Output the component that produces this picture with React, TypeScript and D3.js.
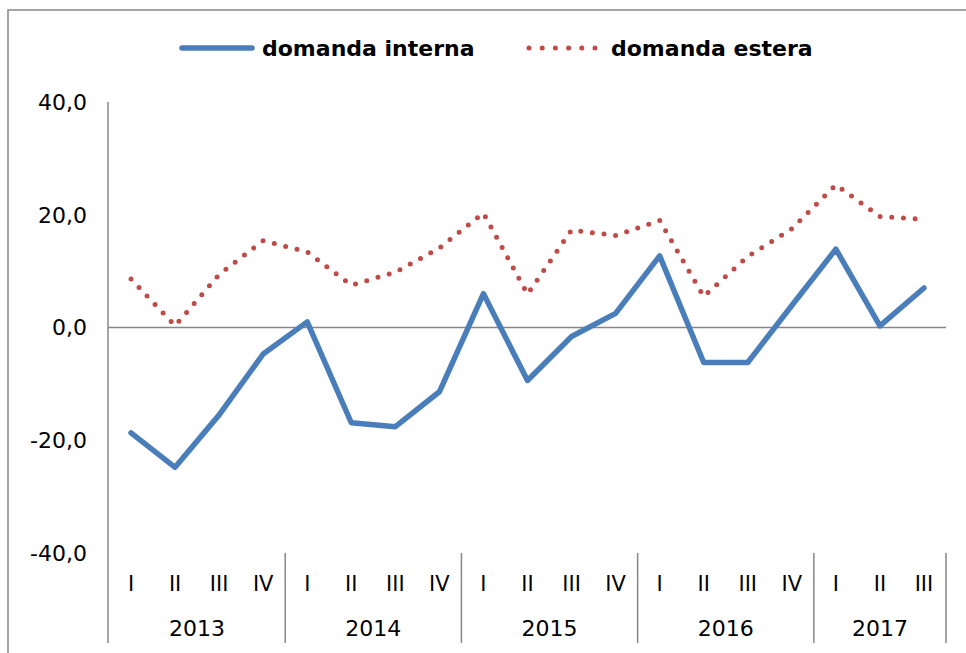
import React from "react";
import * as d3 from "d3";

const years = ["2013", "2014", "2015", "2016", "2017"];
const quarters = ["I", "II", "III", "IV"];
const categories: { year: string; q: string }[] = [
  ...["I", "II", "III", "IV"].map((q) => ({ year: "2013", q })),
  ...["I", "II", "III", "IV"].map((q) => ({ year: "2014", q })),
  ...["I", "II", "III", "IV"].map((q) => ({ year: "2015", q })),
  ...["I", "II", "III", "IV"].map((q) => ({ year: "2016", q })),
  ...["I", "II", "III"].map((q) => ({ year: "2017", q })),
];
const domandaInterna = [
  -18.7, -24.8, -15.5, -4.7, 1.0, -16.9, -17.6, -11.4, 6.0, -9.4, -1.6, 2.5,
  12.7, -6.2, -6.2, 3.9, 13.9, 0.3, 7.0,
];
const domandaEstera = [
  8.6, 0.3, 9.4, 15.4, 13.4, 7.5, 9.8, 14.1, 20.3, 5.9, 17.3, 16.3, 19.0, 5.5,
  12.6, 17.5, 25.3, 19.7, 19.2,
];
const yTicks = [-40, -20, 0, 20, 40];

const W = 966;
const H = 653;
const FONT = "Verdana, 'DejaVu Sans', sans-serif";
const BLUE = "#4A7EBB";
const RED = "#BE4B48";
const GRAY = "#878787";

export default function App() {
  const left = 109;
  const right = 946;
  const top = 102;
  const bottom = 553;
  const keys = categories.map((c, i) => String(i));
  const x = d3.scaleBand<string>().domain(keys).range([left, right]).padding(0);
  const cx = (i: number) => (x(String(i)) as number) + x.bandwidth() / 2;
  const y = d3.scaleLinear().domain([-40, 40]).range([bottom, top]);

  const line = d3
    .line<number>()
    .x((_, i) => cx(i))
    .y((d) => y(d));

  const fmt = (v: number) => d3.format(".1f")(v).replace(".", ",").replace("\u2212", "-");

  const yearGroups = years.map((yr) => {
    const idx = categories.map((c, i) => (c.year === yr ? i : -1)).filter((i) => i >= 0);
    const x0 = x(String(idx[0])) as number;
    const x1 = (x(String(idx[idx.length - 1])) as number) + x.bandwidth();
    return { yr, x0, x1 };
  });
  const sepXs = yearGroups.map((g) => g.x1);

  return (
    <svg
      width={W}
      height={H}
      style={{ position: "absolute", left: 0, top: 0, background: "#fff" }}
      fontFamily={FONT}
    >
      <rect x={0} y={0} width={W} height={H} fill="#fff" />
      <rect x={8} y={10} width={W + 20} height={H + 20} fill="none" stroke={GRAY} strokeWidth={1.5} />

      {/* legend */}
      <line x1={182} x2={252} y1={48} y2={48} stroke={BLUE} strokeWidth={5.5} strokeLinecap="round" />
      <text x={262} y={48} dy="0.36em" fontSize={22} fontWeight="bold" fill="#000">
        domanda interna
      </text>
      <line
        x1={529}
        x2={598}
        y1={48}
        y2={48}
        stroke={RED}
        strokeWidth={5}
        strokeLinecap="round"
        strokeDasharray="0 13.2"
      />
      <text x={611} y={48} dy="0.36em" fontSize={22} fontWeight="bold" fill="#000">
        domanda estera
      </text>

      {/* y axis */}
      <line x1={left - 1} x2={left - 1} y1={top} y2={643} stroke={GRAY} strokeWidth={1.5} />
      {yTicks.map((t) => (
        <text key={t} x={87} y={y(t)} dy="0.36em" textAnchor="end" fontSize={22} fill="#000">
          {fmt(t)}
        </text>
      ))}

      {/* zero line */}
      <line x1={left - 1} x2={right} y1={y(0)} y2={y(0)} stroke={GRAY} strokeWidth={1.5} />

      {/* category separators */}
      {sepXs.map((sx, i) => (
        <line key={i} x1={sx} x2={sx} y1={bottom} y2={643} stroke={GRAY} strokeWidth={1.5} />
      ))}

      {/* quarter labels */}
      {categories.map((c, i) => (
        <text key={i} x={cx(i)} y={583} dy="0.36em" textAnchor="middle" fontSize={21} fill="#000">
          {c.q}
        </text>
      ))}
      {yearGroups.map((g) => (
        <text
          key={g.yr}
          x={(g.x0 + g.x1) / 2}
          y={628}
          dy="0.36em"
          textAnchor="middle"
          fontSize={22}
          fill="#000"
        >
          {g.yr}
        </text>
      ))}

      {/* series */}
      <path
        d={line(domandaEstera) || ""}
        fill="none"
        stroke={RED}
        strokeWidth={5}
        strokeLinecap="round"
        strokeDasharray="0 11.7"
      />
      <path
        d={line(domandaInterna) || ""}
        fill="none"
        stroke={BLUE}
        strokeWidth={5.5}
        strokeLinejoin="round"
        strokeLinecap="round"
      />
    </svg>
  );
}
